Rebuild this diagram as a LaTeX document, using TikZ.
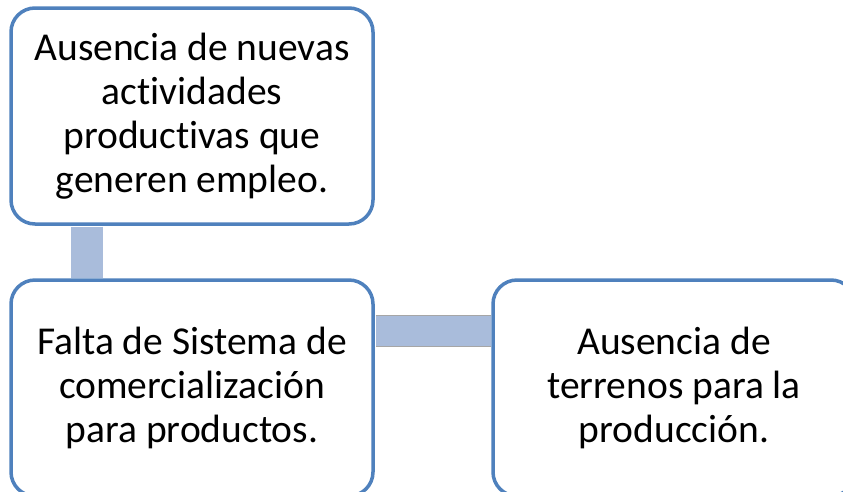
\documentclass[tikz,border=0pt]{standalone}
\usepackage{fontspec}
\setmainfont[Ligatures=NoCommon]{Carlito}
\definecolor{boxblue}{RGB}{79,129,189}
\definecolor{barblue}{RGB}{169,188,219}
\begin{document}
\begin{tikzpicture}[x=1pt,y=-1pt,
  box/.style={draw=boxblue, line width=3.5pt, fill=white, rounded corners=24pt,
    minimum width=362pt, minimum height=216pt, align=center, inner sep=0pt,
    font=\fontsize{39.5}{44}\selectfont},
  bar/.style={barblue, line width=32pt}]
\useasboundingbox (0,0) rectangle (843,491);
\clip (0,0) rectangle (843,491);
\node[box] (top) at (192,116) {Ausencia de nuevas\\actividades\\productivas que\\generen empleo.};
\node[box] (left) at (192,388) {Falta de Sistema de\\comercialización\\para productos.};
\node[box] (right) at (674,388) {Ausencia de\\terrenos para la\\producción.};
\coordinate (vt) at ([xshift=-105pt]top.south);
\coordinate (vb) at ([xshift=-105pt]left.north);
\coordinate (hl) at ([yshift=57pt]left.east);
\coordinate (hr) at ([yshift=57pt]right.west);
\draw[bar, shorten >=-1pt, shorten <=-1pt] ([yshift=-1.75pt]vt) -- ([yshift=1.75pt]vb);
\draw[draw=gray!70, line width=0.6pt, double=barblue, double distance=30pt, shorten >=-1pt, shorten <=-1pt] ([xshift=1.75pt]hl) -- ([xshift=-1.75pt]hr);
\end{tikzpicture}
\end{document}
